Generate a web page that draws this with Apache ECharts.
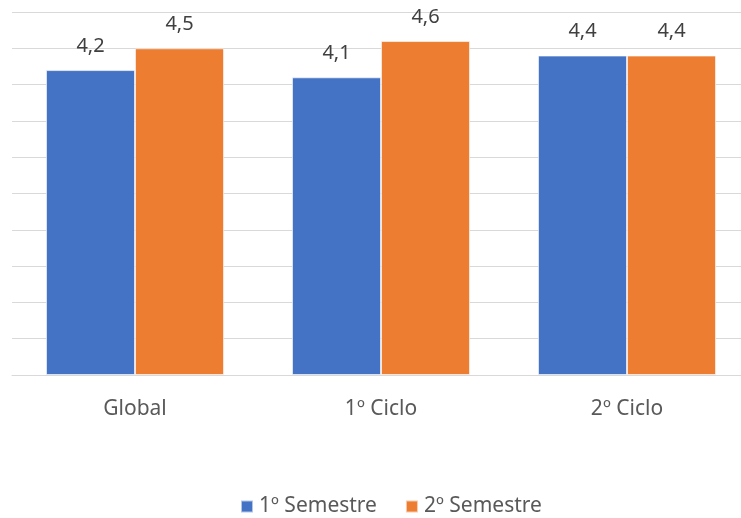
<!DOCTYPE html>
<html>
<head>
<meta charset="utf-8">
<script src="https://cdn.jsdelivr.net/npm/echarts@6/dist/echarts.min.js"></script>
<style>html,body{margin:0;padding:0;background:#fff}#c{width:741px;height:518px}</style>
</head>
<body>
<div id="c"></div>
<script>
var categories = ['Global', '1º Ciclo', '2º Ciclo'];
var semestre1 = [4.2, 4.1, 4.4];
var semestre2 = [4.5, 4.6, 4.4];
var seriesNames = ['1º Semestre', '2º Semestre'];

var font = 'Noto Sans';
var chart = echarts.init(document.getElementById('c'));
function lbl(p){ return String(p.value).replace('.', ','); }
chart.setOption({
  animation: false,
  color: ['#4472C4', '#ED7D31'],
  grid: { left: 12, width: 738, top: 12, height: 363, outerBoundsMode: 'none', containLabel: false },
  legend: {
    top: 491, left: 235, itemWidth: 12, itemHeight: 12, itemGap: 28,
    icon: 'rect',
    textStyle: { fontFamily: font, fontSize: 21, color: '#595959', padding: [0, 0, 0, 1] },
    data: seriesNames
  },
  xAxis: {
    type: 'category', data: categories,
    axisLine: { lineStyle: { color: '#D9D9D9', width: 1 } },
    axisTick: { show: false },
    axisLabel: { fontFamily: font, fontSize: 21, color: '#595959', margin: 24 }
  },
  yAxis: {
    type: 'value', min: 0, max: 5, interval: 0.5,
    axisLabel: { show: false }, axisLine: { show: false }, axisTick: { show: false },
    splitLine: { lineStyle: { color: '#D9D9D9', width: 1 } }
  },
  series: [
    { name: seriesNames[0], type: 'bar', data: semestre1, barWidth: 89, barGap: '0%',
      itemStyle: { borderColor: 'rgba(255,255,255,0.6)', borderWidth: 1 },
      label: { show: true, position: 'top', distance: 14, formatter: lbl, fontFamily: font, fontSize: 20, color: '#404040' } },
    { name: seriesNames[1], type: 'bar', data: semestre2, barWidth: 89, barGap: '0%',
      itemStyle: { borderColor: 'rgba(255,255,255,0.6)', borderWidth: 1 },
      label: { show: true, position: 'top', distance: 14, formatter: lbl, fontFamily: font, fontSize: 20, color: '#404040' } }
  ]
});
</script>
</body>
</html>
